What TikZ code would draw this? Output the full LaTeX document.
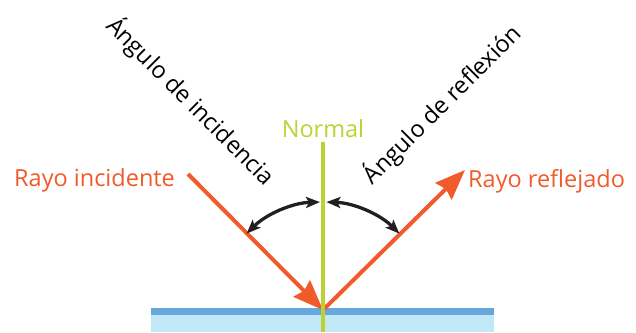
\documentclass[tikz,border=0pt]{standalone}
\usepackage{fontspec}
\setmainfont{Open Sans}
\usetikzlibrary{arrows.meta}
\definecolor{rayorange}{HTML}{F15A2B}
\definecolor{normgreen}{HTML}{BCD232}
\definecolor{surfdark}{HTML}{67A7DB}
\definecolor{surflight}{HTML}{C2E8F8}
\definecolor{arcblack}{HTML}{231F20}
\tikzset{
  lbl/.style={inner sep=0pt, font=\fontsize{23.5}{26}\selectfont},
  ray/.style={draw=rayorange, line width=4pt, -{Stealth[length=30pt,width=23pt,inset=3pt]}},
  normline/.style={draw=normgreen, line width=4.2pt},
  angarrow/.style={draw=arcblack, line width=3.3pt, {Stealth[length=14pt,width=11pt,inset=3pt]}-{Stealth[length=14pt,width=11pt,inset=3pt]}}
}
\begin{document}
\begin{tikzpicture}[x=1pt,y=1pt]
\useasboundingbox (0,0) rectangle (636,332);
% surface
\fill[surflight] (151,0) rectangle (494,17);
\fill[surfdark] (151,17) rectangle (494,24);
% key points
\coordinate (P) at (323,22);
\coordinate (S) at (188,158);
\coordinate (R) at (465,162);
\coordinate (Ntop) at (323,190);
\coordinate (Nbot) at (323,0);
% rays
\draw[ray] (S) -- (P);
\draw[ray] (P) -- (R);
% normal
\draw[normline] (Nbot) -- (Ntop);
% angle arcs
\draw[angarrow, shift={(P)}] (135:108) arc[start angle=135, end angle=91.6, radius=108];
\draw[angarrow, shift={(P)}] (45:108) arc[start angle=45, end angle=88.2, radius=108];
% labels
\node[lbl, text=rayorange, anchor=base west] (ri) at (14,145) {Rayo incidente};
\node[lbl, text=rayorange, anchor=base west] (rr) at (468,144) {Rayo reflejado};
\node[lbl, text=normgreen, anchor=base] (nl) at (323,194) {Normal};
\node[lbl, text=black, anchor=base, rotate=-45] (ai) at (185,225) {Ángulo de incidencia};
\node[lbl, text=black, anchor=base, rotate=45] (ar) at (448,222) {Ángulo de reflexión};
\end{tikzpicture}
\end{document}
